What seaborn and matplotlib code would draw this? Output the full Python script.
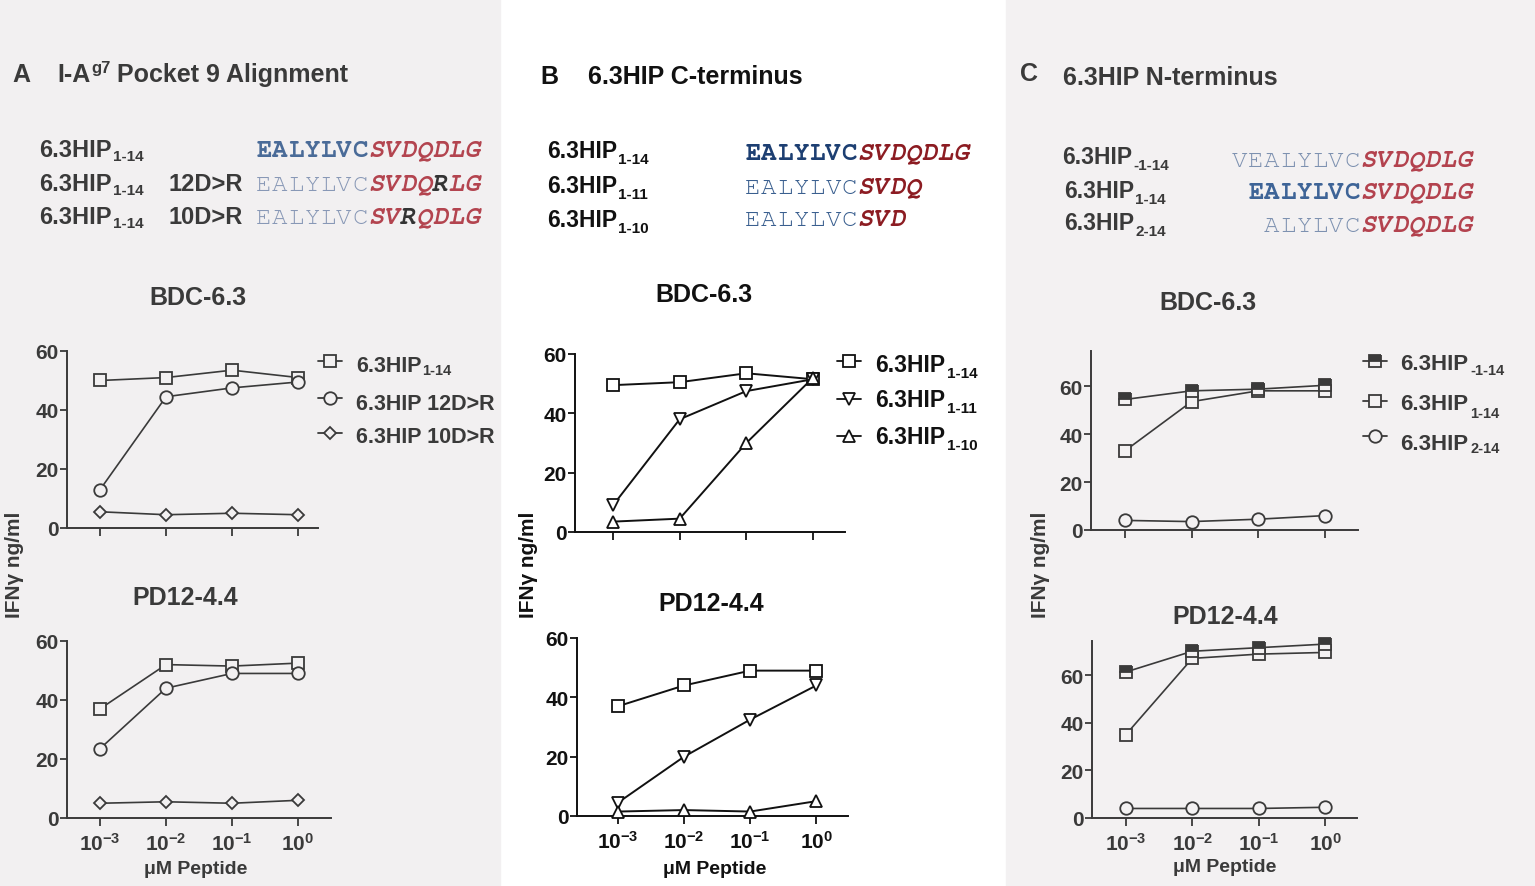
import matplotlib
matplotlib.use("Agg")
import matplotlib.pyplot as plt
import seaborn as sns
import pandas as pd
from matplotlib import font_manager
from matplotlib.lines import Line2D
from matplotlib.patches import Rectangle
from matplotlib.ticker import NullLocator

sns.set_style("ticks")
plt.rcParams['font.family'] = ['Liberation Sans', 'DejaVu Sans']
plt.rcParams['mathtext.default'] = 'regular'

# ---------------- data ----------------
conc = [1e-3, 1e-2, 1e-1, 1e0]
conc_labels = ['10$^{-3}$', '10$^{-2}$', '10$^{-1}$', '10$^{0}$']
y_ticks = [0, 20, 40, 60]

# Panel A  (I-Ag7 pocket 9)
a_bdc_wt = [50, 51, 53.5, 51]
a_bdc_12 = [13, 44.5, 47.5, 49.5]
a_bdc_10 = [5.5, 4.5, 5, 4.5]
a_pd_wt = [37, 52, 51.5, 52.5]
a_pd_12 = [23.5, 44, 49, 49]
a_pd_10 = [5, 5.5, 5, 6]

# Panel B  (C-terminus)
b_bdc_14 = [49.5, 50.5, 53.5, 51.5]
b_bdc_11 = [9, 38, 47.5, 51.5]
b_bdc_10 = [3.5, 4.5, 30, 52]
b_pd_14 = [37, 44, 49, 49]
b_pd_11 = [4.5, 20, 32.5, 44]
b_pd_10 = [1.5, 2, 1.5, 5]

# Panel C  (N-terminus)
c_bdc_m1 = [54.4, 58, 58.7, 60.3]
c_bdc_14 = [33, 53.5, 58, 58]
c_bdc_2 = [4, 3.5, 4.5, 6]
c_pd_m1 = [61.3, 70, 71.5, 73]
c_pd_14 = [35, 67, 68.8, 69.5]
c_pd_2 = [4, 4, 4, 4.5]

# ---------------- fonts ----------------
_names = {f.name for f in font_manager.fontManager.ttflist}
MONO = None
for cand in ['Courier New', 'Nimbus Mono PS', 'Nimbus Mono L', 'FreeMono', 'Courier Prime',
             'Courier 10 Pitch', 'Cutive Mono']:
    if cand in _names:
        MONO = cand
        break
if MONO is not None:
    SEQ_FONT, SEQ_SIZE = MONO, 18.5
else:
    SEQ_FONT, SEQ_SIZE = 'Liberation Serif', 15.5
SEQ_ADV = 16.0  # px per residue slot

# ---------------- figure ----------------
W, H = 1535, 887
fig = plt.figure(figsize=(W / 100, H / 100), dpi=100)
fig.patch.set_facecolor('white')
BG_A = '#f2f0f1'
BG_C = '#f3f1f2'
fig.add_artist(Rectangle((0, 0), 500 / W, 1, transform=fig.transFigure,
                         color=BG_A, zorder=-10))
fig.add_artist(Rectangle((1006 / W, 0), (W - 1006) / W, 1, transform=fig.transFigure,
                         color=BG_C, zorder=-10))
renderer = fig.canvas.get_renderer()


def txt(x, y, s, **kw):
    return fig.text(x / W, 1 - y / H, s, **kw)


def run(x, y, parts, **default):
    """parts: list of (string, size, dy, gap)"""
    for s, size, dy, gap in parts:
        t = txt(x, y + dy, s, ha='left', va='baseline', fontsize=size,
                fontweight='bold', **default)
        x = t.get_window_extent(renderer).x1 + gap
    return x


def seq(x, y, parts):
    i = 0
    for s, color, weight, style in parts:
        for ch in s:
            txt(x + (i + 0.5) * SEQ_ADV, y, ch, ha='center', va='baseline',
                family=SEQ_FONT, fontsize=SEQ_SIZE, color=color,
                fontweight=weight, fontstyle=style)
            i += 1


def make_ax(L, R, T, B, xl, ymax, col):
    ax = fig.add_axes([L / W, 1 - B / H, (R - L) / W, (B - T) / H])
    ax.set_xscale('log')
    ax.set_xlim(*xl)
    ax.set_ylim(0, ymax)
    ax.patch.set_visible(False)
    for s in ['top', 'right']:
        ax.spines[s].set_visible(False)
    for s in ['left', 'bottom']:
        ax.spines[s].set_color(col)
        ax.spines[s].set_linewidth(1.4)
    ax.set_xticks(conc)
    ax.xaxis.set_minor_locator(NullLocator())
    ax.set_yticks(y_ticks)
    ax.tick_params(direction='out', length=5, width=1.3, color=col,
                   labelsize=15, labelcolor=col)
    ax.tick_params(axis='y', pad=1)
    ax.tick_params(axis='x', pad=4, length=6)
    return ax


def draw(ax, series, col, face, lw, show_x):
    for vals, mk, ms, fill in series:
        sns.lineplot(x=conc, y=vals, ax=ax, color=col, linewidth=lw,
                     marker=mk, markersize=ms, markeredgecolor=col,
                     markerfacecolor=(col if fill == 'top' else face),
                     fillstyle=fill, markerfacecoloralt=face,
                     markeredgewidth=1.3, clip_on=False, zorder=3)
    ax.set_xlabel('')
    ax.set_ylabel('')
    if show_x:
        ax.set_xticklabels(conc_labels, fontweight='bold', fontsize=15, color=col)
    else:
        ax.set_xticklabels([])
    for lab in ax.get_yticklabels():
        lab.set_fontweight('bold')


def legend_entry(xc, yc, mk, ms, col, face, fill='full', lw=1.3):
    ln = Line2D([(xc - 12) / W, xc / W, (xc + 12) / W], [1 - yc / H] * 3,
                transform=fig.transFigure, color=col, lw=lw, marker=mk,
                markevery=[1], ms=ms, mec=col, mew=1.3,
                mfc=(col if fill == 'top' else face), fillstyle=fill,
                markerfacecoloralt=face)
    fig.add_artist(ln)


# ================= Panel A =================
CA = '#3a3a3a'
A_BLUE, A_LBLUE, A_RED = '#4a6b98', '#8898b6', '#b3444f'
txt(12, 82, 'A', fontsize=18, fontweight='bold', color=CA, va='baseline')
run(57, 82, [('I-A', 18, 0, 1), ('g7', 12, -9, 6), ('Pocket 9 Alignment', 18, 0, 0)], color=CA)

for yb in [157, 191, 224]:
    run(39, yb, [('6.3HIP', 17, 0, 1), ('1-14', 11, 4, 0)], color=CA)
txt(168, 191, '12D>R', fontsize=17, fontweight='bold', color=CA, va='baseline')
txt(168, 224, '10D>R', fontsize=17, fontweight='bold', color=CA, va='baseline')
seq(256, 157, [('EALYLVC', A_BLUE, 'bold', 'normal'), ('SVDQDLG', A_RED, 'bold', 'italic')])
seq(256, 191, [('EALYLVC', A_LBLUE, 'normal', 'normal'), ('SVDQ', A_RED, 'bold', 'italic'),
               ('R', '#333333', 'bold', 'italic'), ('LG', A_RED, 'bold', 'italic')])
seq(256, 224, [('EALYLVC', A_LBLUE, 'normal', 'normal'), ('SV', A_RED, 'bold', 'italic'),
               ('R', '#333333', 'bold', 'italic'), ('QDLG', A_RED, 'bold', 'italic')])

txt(198, 298, 'BDC-6.3', fontsize=18, fontweight='bold', color=CA, ha='center', va='center')
txt(185, 598, 'PD12-4.4', fontsize=18, fontweight='bold', color=CA, ha='center', va='center')
txt(15, 565, 'IFNγ ng/ml', fontsize=15, fontweight='bold', color=CA, rotation=90,
    ha='center', va='center')
txt(196, 870, 'μM Peptide', fontsize=14, fontweight='bold', color=CA, ha='center', va='center')

axA1 = make_ax(67, 318, 352, 529, (10 ** -3.5, 10 ** 0.3), 60, CA)
draw(axA1, [(a_bdc_wt, 's', 9, 'full'), (a_bdc_12, 'o', 9, 'full'), (a_bdc_10, 'D', 6, 'full')],
     CA, BG_A, 1.2, False)
axA2 = make_ax(67, 331, 642, 819, (10 ** -3.5, 10 ** 0.5), 60, CA)
draw(axA2, [(a_pd_wt, 's', 9, 'full'), (a_pd_12, 'o', 9, 'full'), (a_pd_10, 'D', 6, 'full')],
     CA, BG_A, 1.2, True)

legend_entry(330, 362, 's', 9, CA, BG_A)
legend_entry(330, 399, 'o', 9, CA, BG_A)
legend_entry(330, 434, 'D', 6, CA, BG_A)
run(356, 372, [('6.3HIP', 15.5, 0, 1), ('1-14', 10.5, 3, 0)], color=CA)
txt(356, 410, '6.3HIP 12D>R', fontsize=15.5, fontweight='bold', color=CA, va='baseline')
txt(356, 443, '6.3HIP 10D>R', fontsize=15.5, fontweight='bold', color=CA, va='baseline')

# ================= Panel B =================
CB = '#111111'
B_NAVY, B_BLUE, B_RED = '#1d3f72', '#3a5f8f', '#8c1c22'
txt(540, 84, 'B', fontsize=18, fontweight='bold', color=CB, va='baseline')
txt(588, 84, '6.3HIP C-terminus', fontsize=18, fontweight='bold', color=CB, va='baseline')
for yb, sub in [(158, '1-14'), (193, '1-11'), (227, '1-10')]:
    run(547, yb, [('6.3HIP', 16.5, 0, 1), (sub, 11, 6, 0)], color=CB)
seq(745, 160, [('EALYLVC', B_NAVY, 'bold', 'normal'), ('SVDQDLG', B_RED, 'bold', 'italic')])
seq(745, 194, [('EALYLVC', B_BLUE, 'normal', 'normal'), ('SVDQ', B_RED, 'bold', 'italic')])
seq(745, 226, [('EALYLVC', B_BLUE, 'normal', 'normal'), ('SVD', B_RED, 'bold', 'italic')])

txt(704, 295, 'BDC-6.3', fontsize=18, fontweight='bold', color=CB, ha='center', va='center')
txt(711, 604, 'PD12-4.4', fontsize=18, fontweight='bold', color=CB, ha='center', va='center')
txt(528, 565, 'IFNγ ng/ml', fontsize=15, fontweight='bold', color=CB, rotation=90,
    ha='center', va='center')
txt(715, 870, 'μM Peptide', fontsize=14, fontweight='bold', color=CB, ha='center', va='center')

axB1 = make_ax(575, 845, 355, 533, (10 ** -3.57, 10 ** 0.48), 60, CB)
draw(axB1, [(b_bdc_14, 's', 9, 'full'), (b_bdc_11, 'v', 9, 'full'), (b_bdc_10, '^', 9, 'full')],
     CB, 'white', 1.4, False)
axB2 = make_ax(577, 848, 639, 817, (10 ** -3.62, 10 ** 0.48), 60, CB)
draw(axB2, [(b_pd_14, 's', 9, 'full'), (b_pd_11, 'v', 9, 'full'), (b_pd_10, '^', 9, 'full')],
     CB, 'white', 1.4, True)

legend_entry(849, 362, 's', 9, CB, 'white')
legend_entry(849, 400, 'v', 9, CB, 'white')
legend_entry(849, 437, '^', 9, CB, 'white')
for yb, sub in [(372, '1-14'), (407, '1-11'), (444, '1-10')]:
    run(875, yb, [('6.3HIP', 16.5, 0, 2), (sub, 11, 6, 0)], color=CB)

# ================= Panel C =================
CC = '#3a3a3a'
C_LBLUE, C_BLUE, C_RED = '#7d91b0', '#3e6497', '#b3424e'
txt(1020, 81, 'C', fontsize=18, fontweight='bold', color=CC, va='baseline')
txt(1063, 85, '6.3HIP N-terminus', fontsize=18, fontweight='bold', color=CC, va='baseline')
for x0, yb, sub in [(1062, 164, '-1-14'), (1064, 198, '1-14'), (1064, 230, '2-14')]:
    run(x0, yb, [('6.3HIP', 16.5, 0, 1), (sub, 11, 6, 0)], color=CC)
seq(1232, 167, [('VEALYLVC', C_LBLUE, 'normal', 'normal'), ('SVDQDLG', C_RED, 'bold', 'italic')])
seq(1248, 199, [('EALYLVC', C_BLUE, 'bold', 'normal'), ('SVDQDLG', C_RED, 'bold', 'italic')])
seq(1264, 232, [('ALYLVC', C_LBLUE, 'normal', 'normal'), ('SVDQDLG', C_RED, 'bold', 'italic')])

txt(1208, 303, 'BDC-6.3', fontsize=18, fontweight='bold', color=CC, ha='center', va='center')
txt(1225, 617, 'PD12-4.4', fontsize=18, fontweight='bold', color=CC, ha='center', va='center')
txt(1040, 565, 'IFNγ ng/ml', fontsize=15, fontweight='bold', color=CC, rotation=90,
    ha='center', va='center')
txt(1225, 868, 'μM Peptide', fontsize=14, fontweight='bold', color=CC, ha='center', va='center')

axC1 = make_ax(1091, 1358, 352, 531, (10 ** -3.51, 10 ** 0.5), 74.6, CC)
draw(axC1, [(c_bdc_14, 's', 9, 'full'), (c_bdc_m1, 's', 9, 'top'), (c_bdc_2, 'o', 9, 'full')],
     CC, BG_C, 1.2, False)
axC2 = make_ax(1092, 1357, 642, 819, (10 ** -3.51, 10 ** 0.48), 74.3, CC)
draw(axC2, [(c_pd_14, 's', 9, 'full'), (c_pd_m1, 's', 9, 'top'), (c_pd_2, 'o', 9, 'full')],
     CC, BG_C, 1.2, True)

legend_entry(1375, 362, 's', 9, CC, BG_C, fill='top')
legend_entry(1375, 402, 's', 9, CC, BG_C)
legend_entry(1375, 437, 'o', 9, CC, BG_C)
for yb, sub, dy in [(370, '-1-14', 5), (410, '1-14', 8), (450, '2-14', 3)]:
    run(1400, yb, [('6.3HIP', 16, 0, 2), (sub, 10.5, dy, 0)], color=CC)

fig.savefig('out.png', dpi=100)
